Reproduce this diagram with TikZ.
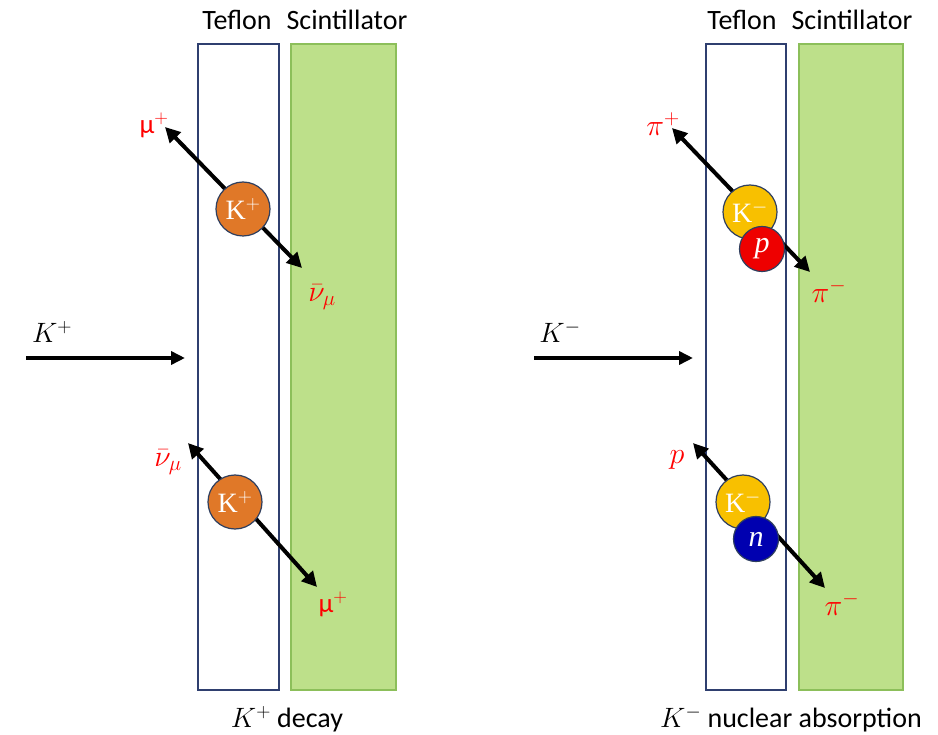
\RequirePackage{fix-cm}
\documentclass[tikz,border=0pt]{standalone}
\usepackage{fontspec}
\setmainfont{Carlito}
\newfontfamily\serf{Liberation Serif}
\usetikzlibrary{arrows.meta}
\definecolor{teflonc}{HTML}{2F3F6F}
\definecolor{scintfill}{HTML}{BDE08A}
\definecolor{scintdraw}{HTML}{8CBF5A}
\definecolor{kplus}{HTML}{E07828}
\definecolor{kminus}{HTML}{F8C000}
\definecolor{protonc}{HTML}{EE0000}
\definecolor{neutronc}{HTML}{0000B0}
\definecolor{circdraw}{HTML}{2F3F5F}
\definecolor{lblred}{HTML}{FF0000}
\begin{document}
\begin{tikzpicture}[x=1pt,y=-1pt,
  txt/.style={font=\fontsize{28}{32}\selectfont, inner sep=0pt},
  plbl/.style={font=\fontsize{30}{34}\selectfont, inner sep=0pt, text=lblred},
  teflon/.style={draw=teflonc, line width=1.2pt, fill=white, minimum width=81pt, minimum height=646pt, inner sep=0pt},
  scint/.style={draw=scintdraw, line width=1.2pt, fill=scintfill, minimum width=105pt, minimum height=646pt, inner sep=0pt},
  ball/.style={circle, draw=circdraw, line width=1.2pt, inner sep=0pt, text=white, font=\fontsize{28}{32}\selectfont\serf},
  kball/.style={ball, minimum size=54pt},
  nball/.style={ball, minimum size=45pt, font=\fontsize{30}{34}\selectfont\serf\itshape},
  arr/.style={line width=4pt, {Triangle[length=15pt,width=15pt]}-{Triangle[length=15pt,width=15pt]}},
  inarr/.style={line width=4pt, -{Triangle[length=14pt,width=13pt]}}
]
\useasboundingbox (0,0) rectangle (938,735);

% left panel
\node[teflon] (tL) at (238.5,367) {};
\node[scint] (sL) at (343.5,367) {};
\node[txt] (tLl) at (237,20) {Teflon};
\node[txt] (sLl) at (347,20) {Scintillator};
\node[txt] (capL) at (287,719) {$K^+$ decay};

\coordinate (inL0) at (26,358);
\coordinate (inL1) at (185,358);
\draw[inarr] (inL0) -- (inL1);
\node[txt] (KpIn) at (52,332) {$K^+$};

\coordinate (a1) at (165,127);
\coordinate (b1) at (302,268);
\draw[arr] (a1) -- (b1);
\node[kball, fill=kplus] (c1) at (243,209) {K$^+$};
\node[plbl, font=\fontsize{27}{32}\selectfont] (mu1) at (154,125) {μ$^+$};
\node[plbl] (nu1) at (322,297) {$\bar\nu_\mu$};

\coordinate (a2) at (188,443);
\coordinate (b2) at (317,587);
\draw[arr] (a2) -- (b2);
\node[kball, fill=kplus] (c2) at (235,502) {K$^+$};
\node[plbl] (nu2) at (168,462) {$\bar\nu_\mu$};
\node[plbl, font=\fontsize{27}{32}\selectfont] (mu2) at (333,604) {μ$^+$};

% right panel
\node[teflon, minimum width=80pt] (tR) at (746,367) {};
\node[scint, minimum width=104pt] (sR) at (851,367) {};
\node[txt] (tRl) at (742,20) {Teflon};
\node[txt] (sRl) at (852,20) {Scintillator};
\node[txt] (capR) at (791,719) {$K^-$ nuclear absorption};

\coordinate (inR0) at (534,358);
\coordinate (inR1) at (693,358);
\draw[inarr] (inR0) -- (inR1);
\node[txt] (KmIn) at (560,332) {$K^-$};

\coordinate (a3) at (672,128);
\coordinate (b3) at (810,272);
\draw[arr] (a3) -- (b3);
\node[kball, fill=kminus] (c3) at (750,212) {K$^-$};
\node[nball, fill=protonc] (p3) at (762,249) {p};
\node[plbl] (pip3) at (663,124) {$\pi^+$};
\node[plbl] (pim3) at (829,291) {$\pi^-$};

\coordinate (a4) at (693,443);
\coordinate (b4) at (825,588);
\draw[arr] (a4) -- (b4);
\node[kball, fill=kminus] (c4) at (743,502) {K$^-$};
\node[nball, fill=neutronc] (n4) at (756,539) {n};
\node[plbl] (p4) at (677,460) {$p$};
\node[plbl] (pim4) at (842,604) {$\pi^-$};
\end{tikzpicture}
\end{document}
